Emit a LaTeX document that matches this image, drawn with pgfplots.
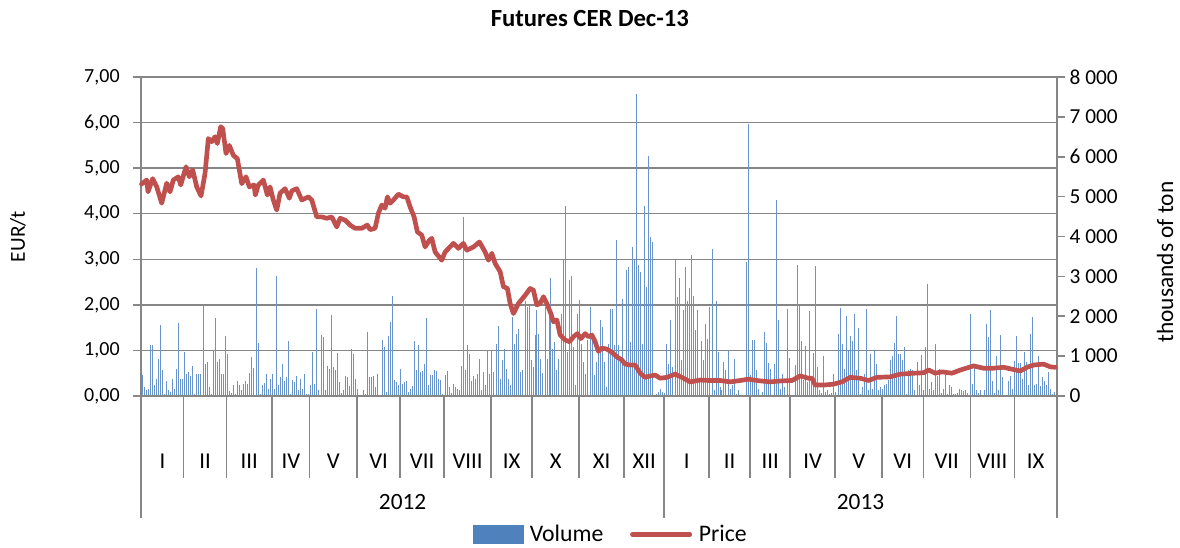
\documentclass[border=0pt]{standalone}
\usepackage{fontspec}
\setmainfont{Carlito}
\usepackage{pgfplots}
\pgfplotsset{compat=1.18}
\usepackage{pgfplotstable}
\definecolor{volblue}{RGB}{79,129,189}
\definecolor{volbar}{RGB}{105,148,203}
\definecolor{pricered}{RGB}{192,80,77}
\definecolor{gridgray}{RGB}{134,134,134}

\pgfplotstableread{
x v
142.3 520
144.3 225
146.3 140
148.3 180
150.3 1290
152.3 1270
154.3 270
156.3 430
158.3 935
160.3 1790
162.3 660
164.3 60
166.3 375
168.3 140
170.3 100
172.3 435
174.3 185
176.3 685
178.3 1840
180.3 435
182.3 435
184.3 1100
186.3 560
188.3 600
190.3 490
192.3 745
194.3 60
196.3 545
198.3 545
200.3 560
203.3 2250
205.3 810
207.3 845
209.3 225
211.3 60
213.3 1145
215.3 1955
217.3 850
219.3 935
221.3 545
223.3 545
225.7 1495
227.7 1060
229.7 120
231.7 75
233.7 270
235.7 60
237.7 375
239.7 270
241.7 140
243.7 310
245.7 375
247.7 310
249.7 575
251.7 975
253.7 710
256.0 3215
258.0 1335
260.0 60
262.0 270
264.0 325
266.0 560
268.0 185
270.0 435
272.0 545
274.0 185
276.3 3015
278.3 270
280.3 475
282.3 795
284.3 375
286.3 475
288.3 1370
290.3 60
292.3 410
294.3 350
296.3 490
298.3 140
300.3 435
302.3 185
304.3 560
306.3 60
308.3 40
310.3 270
312.7 1100
314.7 310
316.7 2190
318.7 140
321.0 1520
323.3 1480
325.3 140
327.3 745
329.3 685
331.3 2040
333.3 725
335.3 645
337.3 1080
339.3 350
341.3 75
343.3 140
345.3 490
347.3 475
349.3 240
351.0 1180
353.0 1045
355.0 435
357.0 185
359.0 30
361.0 30
363.0 160
365.0 40
367.7 1595
369.7 475
371.7 475
373.7 490
375.7 225
377.7 545
380.0 30
382.3 1395
384.3 1230
386.3 100
388.3 1495
390.3 1855
392.3 2505
394.3 390
396.3 350
398.3 270
400.3 685
402.3 310
404.3 350
406.3 375
408.3 100
410.3 185
412.3 240
414.3 1370
416.3 645
418.7 1270
420.7 600
422.7 625
424.7 810
426.7 1960
428.7 270
430.7 520
432.7 520
434.7 645
436.7 625
438.7 435
440.7 410
442.7 60
445.3 520
447.3 625
449.3 225
451.3 75
453.3 310
455.3 225
457.3 185
459.3 140
461.3 745
463.3 4485
465.3 645
467.3 1270
469.3 1060
471.3 375
473.3 490
475.3 435
477.3 560
479.3 935
481.3 140
483.3 600
485.3 270
487.3 1160
489.3 560
491.3 1160
493.3 600
496.0 1310
498.3 1745
500.3 435
502.3 895
504.0 1185
506.0 685
508.0 435
510.0 270
512.7 1980
514.7 1310
516.7 1560
518.7 1685
520.7 600
522.7 645
525.0 2395
527.0 2230
529.0 2270
531.0 895
533.0 725
535.0 1520
536.7 2160
538.7 1560
540.7 935
542.7 575
545.0 2230
547.0 935
549.0 2230
550.7 2965
552.7 1185
554.7 1350
556.7 645
558.7 935
561.0 2060
563.3 3400
565.3 4775
567.3 1100
569.3 2920
571.3 3000
573.3 1230
575.3 270
577.3 2060
579.3 2420
581.3 1310
583.3 850
585.3 560
587.7 1395
590.0 2230
592.0 1560
594.0 520
596.0 850
598.0 1145
600.0 1895
602.0 1730
604.0 850
606.0 225
608.0 1310
610.0 2190
612.3 2190
614.3 1270
616.3 3915
618.3 1270
620.3 850
622.7 2440
624.7 895
626.3 3165
628.3 3230
630.3 1350
632.3 3730
634.3 3400
636.7 7575
638.7 3275
640.3 3105
642.3 1310
644.3 4775
646.3 2730
648.7 6030
650.7 3985
652.7 3860
654.7 30
656.7 60
658.7 100
660.7 185
662.7 100
664.7 75
666.7 1310
668.7 810
670.7 1895
672.7 725
675.3 3400
677.3 2480
679.3 2965
681.3 895
683.3 2145
685.3 3230
687.3 2395
689.3 2715
691.3 3525
693.3 2520
695.3 1645
697.3 2160
699.3 390
701.3 1370
703.3 895
705.3 1810
707.3 1435
709.3 2230
712.0 3690
714.0 140
716.0 2395
718.0 1100
719.9 225
721.6 140
723.3 850
725.3 645
728.3 1160
730.3 185
732.3 270
734.0 935
736.0 60
738.0 140
740.0 30
742.0 20
744.0 30
746.3 3355
748.3 6820
750.3 520
752.3 1395
754.3 1395
756.3 645
758.3 185
760.3 30
762.3 100
764.3 1605
766.3 1335
768.3 835
770.3 685
772.3 30
774.3 795
776.7 4925
778.7 1895
780.7 185
782.7 560
784.7 225
787.0 2190
789.0 950
791.0 30
793.0 30
795.0 770
797.0 3275
799.0 2245
801.3 1380
803.3 390
805.3 1245
807.3 350
809.3 2130
811.3 350
813.3 1080
815.3 3250
817.3 725
819.3 140
821.3 70
823.3 995
825.3 100
827.3 140
829.3 60
831.3 70
833.3 545
835.3 100
838.0 1560
840.0 2215
842.0 1310
844.0 685
846.0 2000
848.0 1145
850.0 1495
852.0 1380
854.0 2060
856.0 645
858.3 1710
860.3 60
862.3 225
864.3 560
866.3 2190
868.3 140
870.3 1045
872.3 180
874.3 1145
876.3 810
878.3 140
880.3 225
882.3 180
884.3 270
886.3 310
888.3 390
890.3 895
892.3 995
894.3 1330
896.3 2000
898.3 1045
900.3 1060
902.3 910
904.3 1230
906.3 60
908.3 660
910.3 685
912.3 645
914.3 140
917.0 850
919.0 270
921.0 1035
923.0 140
925.0 1230
927.3 2800
929.3 180
931.3 350
933.3 140
935.3 1310
937.3 490
939.3 685
941.3 75
943.3 180
945.3 520
947.3 60
949.3 270
951.3 220
953.3 60
955.3 40
957.3 75
959.3 185
961.3 140
963.3 120
965.3 140
967.3 75
970.0 2045
972.0 310
974.0 770
976.0 140
978.0 75
980.0 140
982.0 30
984.0 140
986.3 1810
988.3 1480
990.3 2145
992.3 375
994.3 75
996.3 995
998.3 140
1000.3 1520
1002.3 475
1004.3 30
1006.3 30
1008.3 375
1010.3 490
1012.3 180
1014.3 870
1016.3 1495
1018.3 825
1020.3 825
1022.3 435
1024.3 1100
1026.3 850
1028.3 270
1030.3 1545
1032.3 1980
1034.3 270
1036.3 310
1038.3 995
1040.3 240
1042.3 475
1044.3 375
1046.3 270
1048.3 600
1050.3 180
1052.3 60
1054.3 100
}\voltable

\pgfplotstableread{
x p
141.5 4.65
146.7 4.74
148.0 4.48
152.7 4.77
156.7 4.59
161.7 4.23
166.7 4.67
170.0 4.48
173.3 4.74
178.3 4.81
180.7 4.63
186.0 5.03
189.3 4.81
192.7 4.96
196.7 4.59
201.0 4.39
205.0 4.88
208.3 5.65
211.7 5.58
215.0 5.69
217.3 5.54
220.7 5.91
222.7 5.87
226.0 5.32
229.3 5.50
233.3 5.28
237.3 5.21
241.7 4.66
246.0 4.81
249.3 4.59
254.0 4.63
255.3 4.41
258.3 4.63
263.3 4.74
267.3 4.41
270.0 4.59
273.3 4.30
276.7 4.08
280.0 4.45
285.0 4.55
289.3 4.34
291.7 4.50
296.7 4.55
301.7 4.30
308.3 4.37
311.7 4.30
316.7 3.93
321.7 3.93
326.7 3.90
331.7 3.93
336.7 3.71
340.0 3.90
345.0 3.86
350.0 3.75
355.0 3.68
361.7 3.68
367.3 3.75
370.0 3.65
375.0 3.68
378.3 4.01
381.7 4.19
385.0 4.12
387.3 4.37
390.0 4.23
393.3 4.30
398.3 4.43
403.3 4.37
406.7 4.37
410.0 4.15
414.0 3.93
417.3 3.60
421.7 3.53
425.0 3.27
429.3 3.42
431.7 3.46
435.0 3.16
441.7 2.98
445.0 3.16
453.3 3.35
458.3 3.24
463.3 3.35
466.7 3.20
473.3 3.27
479.3 3.38
485.0 3.16
488.3 2.98
491.7 3.13
495.0 2.91
500.0 2.73
503.3 2.40
507.3 2.36
510.0 2.03
513.3 1.81
518.3 2.03
525.0 2.21
530.0 2.36
533.3 2.32
536.7 2.00
540.0 2.03
543.3 2.18
546.7 2.03
550.7 1.81
553.3 1.63
556.7 1.67
560.0 1.34
565.0 1.23
569.3 1.19
573.3 1.30
577.3 1.37
580.7 1.26
585.0 1.37
588.3 1.30
591.7 1.34
595.0 1.19
598.3 0.98
601.7 1.05
606.7 1.03
611.7 0.96
616.7 0.86
621.7 0.79
625.0 0.70
630.0 0.68
635.0 0.68
640.0 0.50
645.0 0.41
650.0 0.44
655.0 0.46
660.0 0.39
666.7 0.41
675.0 0.48
683.3 0.39
690.0 0.31
700.0 0.35
710.0 0.34
720.0 0.34
730.0 0.31
740.0 0.34
748.3 0.37
756.7 0.34
770.0 0.31
780.0 0.33
791.7 0.34
800.0 0.44
808.3 0.39
811.7 0.39
815.0 0.24
823.3 0.24
833.3 0.26
841.7 0.31
850.0 0.41
860.0 0.39
868.3 0.34
876.7 0.41
890.0 0.42
900.0 0.48
913.3 0.50
923.3 0.51
928.3 0.57
935.0 0.50
941.7 0.53
951.7 0.50
960.0 0.57
973.3 0.66
983.3 0.61
993.3 0.61
1003.3 0.63
1013.3 0.58
1020.0 0.55
1026.7 0.63
1033.3 0.68
1043.3 0.70
1050.0 0.64
1055.0 0.63
}\pricetable

\pgfplotsset{
  common/.style={
    at={(0pt,0pt)}, anchor=south west,
    scale only axis, width=687pt, height=239.25pt,
    xmin=141, xmax=1056.7,
    axis line style={gridgray, line width=1.15pt, -},
    tick style={gridgray, line width=1.15pt},
    tick align=outside,
  }
}

\begin{document}
\begin{tikzpicture}
\path[use as bounding box] (-105.75pt,-113.25pt) rectangle (779.25pt,297pt);

% grid and left axis
\begin{axis}[common,
  ymin=0, ymax=7,
  axis x line*=bottom, axis y line*=left,
  xtick=\empty,
  ytick={0,1,2,3,4,5,6,7},
  yticklabels={{0,00},{1,00},{2,00},{3,00},{4,00},{5,00},{6,00},{7,00}},
  ymajorgrids, major grid style={gridgray, line width=1.15pt},
  major tick length=6pt,
  yticklabel style={font=\fontsize{15}{18}\selectfont, xshift=-6.5pt},
  ylabel={EUR/t},
  ylabel style={font=\fontsize{16}{19}\selectfont, at={(axis description cs:-0.1343,0.5)}, anchor=center},
  title={Futures CER Dec-13},
  title style={font=\bfseries\fontsize{18.5}{22}\selectfont, at={(axis description cs:0.49,1.157)}, anchor=center},
]
\addplot[draw=none] coordinates {(141,0) (1056.7,7)};
\end{axis}

% volume bars, right axis
\begin{axis}[common,
  ymin=0, ymax=8000,
  axis x line=none, axis y line*=right,
  ytick={0,1000,2000,3000,4000,5000,6000,7000,8000},
  yticklabels={0,{1 000},{2 000},{3 000},{4 000},{5 000},{6 000},{7 000},{8 000}},
  major tick length=6pt,
  yticklabel style={font=\fontsize{16}{19}\selectfont},
  ylabel={thousands of ton},
  ylabel style={font=\fontsize{17.5}{20}\selectfont, at={(axis description cs:1.118,0.42)}, anchor=center},
]
\addplot[ycomb, color=volbar, line width=0.8pt] table[x=x, y=v]{\voltable};
\end{axis}

% price line and category axis
\begin{axis}[common,
  ymin=0, ymax=7, clip=false,
  axis y line=none, axis x line*=bottom,
  xtick={162.35,205.1,249.25,290.8,333.3,378.5,422,467.5,511.5,555.5,601.5,644,686.5,729.5,770,812.5,858.5,902.5,946.5,992,1035.35},
  xticklabels={I,II,III,IV,V,VI,VII,VIII,IX,X,XI,XII,I,II,III,IV,V,VI,VII,VIII,IX},
  minor xtick={183.7,226.5,272,309.6,357,400,444,491,532,579,624,709,750,790,835,882,923,970,1014},
  major tick length=0pt, minor tick length=61.5pt,
  xticklabel style={font=\fontsize{17}{20}\selectfont, anchor=center, yshift=-48.75pt},
  legend columns=2,
  legend style={at={(axis description cs:0.513,-0.434)}, anchor=center, draw=none, fill=none,
    font=\fontsize{17.8}{20}\selectfont,
    /tikz/every odd column/.append style={column sep=3pt},
    /tikz/every even column/.append style={column sep=18pt}},
]
\addlegendimage{legend image code/.code={\fill[volblue] (0pt,-6.75pt) rectangle (37.5pt,6.75pt);}}
\addlegendentry{Volume}
\addplot[pricered, line width=3.5pt, line join=round, line cap=round,
  legend image code/.code={\draw[pricered, line width=3.5pt] (0pt,0pt) -- (43pt,0pt);}]
  table[x=x, y=p]{\pricetable};
\addlegendentry{Price}
\draw[gridgray, line width=1.15pt] (axis cs:141,0) -- ++(0pt,-91.5pt);
\draw[gridgray, line width=1.15pt] (axis cs:664,0) -- ++(0pt,-91.5pt);
\draw[gridgray, line width=1.15pt] (axis cs:1056.7,0) -- ++(0pt,-91.5pt);
\node[font=\fontsize{17.5}{20}\selectfont] at ([yshift=-79.5pt]axis cs:402.5,0) {2012};
\node[font=\fontsize{17.5}{20}\selectfont] at ([yshift=-79.5pt]axis cs:860.3,0) {2013};
\end{axis}
\end{tikzpicture}
\end{document}
